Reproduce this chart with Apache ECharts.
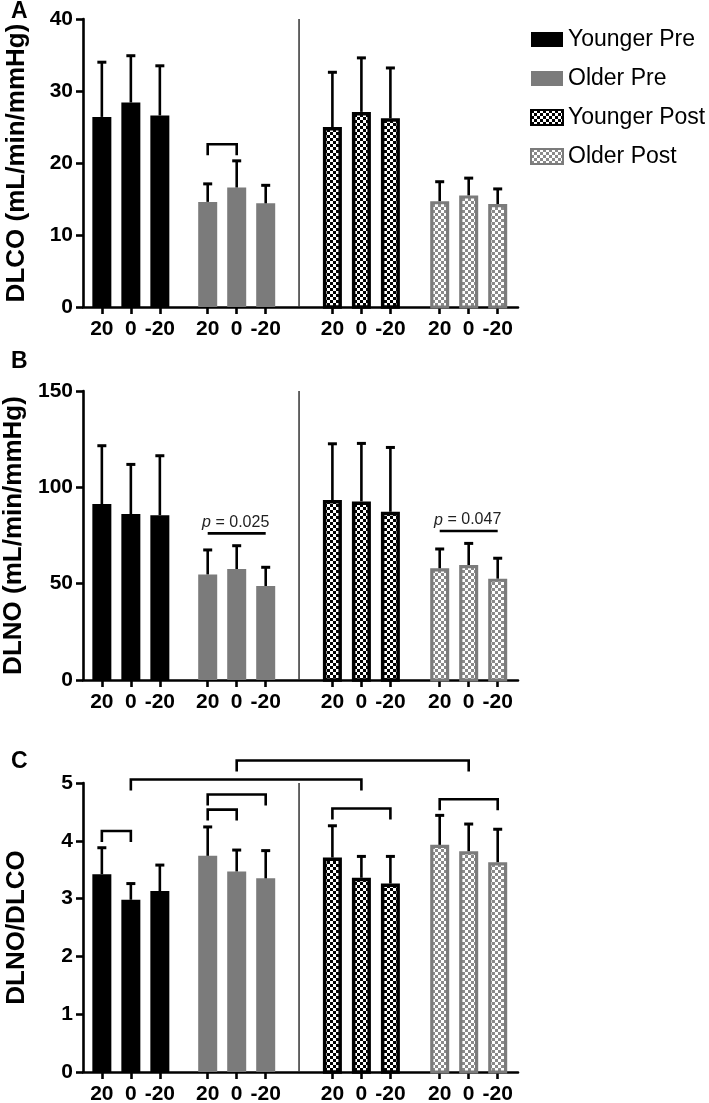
<!DOCTYPE html>
<html>
<head>
<meta charset="utf-8">
<script src="https://cdn.jsdelivr.net/npm/echarts@6/dist/echarts.min.js"></script>
<style>
html,body{margin:0;padding:0;background:#fff;}
#chart{width:709px;height:1103px;}
</style>
</head>
<body>
<div id="chart"></div>
<script>
// ---------------- DATA ----------------
const doseLabels = ['20', '0', '-20'];
const groupNames = ['Younger Pre', 'Older Pre', 'Younger Post', 'Older Post'];

// Panel A: DLCO (mean, SD) per group x dose
const dlcoMean = [[26.4, 28.4, 26.6], [14.6, 16.6, 14.4], [25.0, 27.1, 26.2], [14.7, 15.5, 14.3]];
const dlcoSD   = [[7.6, 6.5, 6.9],    [2.5, 3.7, 2.5],    [7.6, 7.5, 7.0],    [2.7, 2.4, 2.1]];
// Panel B: DLNO
const dlnoMean = [[91.3, 86.1, 85.5], [54.8, 57.6, 48.8], [93.4, 92.7, 87.3], [58.0, 59.7, 52.6]];
const dlnoSD   = [[30.3, 25.8, 30.9], [12.7, 12.1, 9.7],  [29.2, 30.1, 33.4], [10.0, 11.2, 10.6]];
// Panel C: DLNO/DLCO
const ratioMean = [[3.42, 2.98, 3.13], [3.74, 3.47, 3.35], [3.71, 3.36, 3.26], [3.93, 3.82, 3.63]];
const ratioSD   = [[0.46, 0.28, 0.45], [0.50, 0.37, 0.48], [0.55, 0.37, 0.47], [0.51, 0.47, 0.57]];

// y tick labels
const dlcoTicks = [0, 10, 20, 30, 40];
const dlnoTicks = [0, 50, 100, 150];
const ratioTicks = [0, 1, 2, 3, 4, 5];

// significance brackets: [fromBar, toBar, height]
const dlcoBrackets = [[3, 4, 22.6]];
const ratioBrackets = [[0, 1, 4.17], [3, 4, 4.54], [3, 5, 4.80], [1, 7, 5.06], [4, 10, 5.39], [6, 8, 4.56], [9, 11, 4.72]];
// p-value lines: [fromBar, toBar, height, p]
const dlnoPLines = [[3, 5, 76.1, '0.025'], [9, 11, 77.3, '0.047']];

// ---------------- LAYOUT ----------------
const groupStart = [0.65, 4.3, 8.6, 12.3];
const dividerX = 7.45;
const xMax = 15;
const barPos = [];
groupStart.forEach(s => { for (let i = 0; i < 3; i++) barPos.push(s + i); });

const FONT = '"Liberation Sans", Arial, Helvetica, sans-serif';
const GRAY = '#7b7b7b';

function checker(c1, c2, s) {
  const cv = document.createElement('canvas');
  cv.width = cv.height = 2 * s;
  const ctx = cv.getContext('2d');
  ctx.fillStyle = c2; ctx.fillRect(0, 0, 2 * s, 2 * s);
  ctx.fillStyle = c1; ctx.fillRect(0, 0, s, s); ctx.fillRect(s, s, s, s);
  return { image: cv, repeat: 'repeat' };
}
const patBlack = checker('#000', '#fff', 3);
const patGray = checker('#8a8a8a', '#fff', 3);

const groupStyles = [
  { fill: '#000', stroke: null, bw: 0 },
  { fill: GRAY, stroke: null, bw: 0 },
  { fill: patBlack, stroke: '#000', bw: 3.5 },
  { fill: patGray, stroke: GRAY, bw: 3.2 }
];

const BAR_W = 19;

function makeBarRender(g) {
  return function (params, api) {
    const x = api.value(0), m = api.value(1), sd = api.value(2);
    const p0 = api.coord([x, 0]);
    const p1 = api.coord([x, m]);
    const p2 = api.coord([x, m + sd]);
    const st = groupStyles[g];
    const bw = st.bw;
    const cx = p1[0];
    const rect = {
      type: 'rect',
      shape: { x: cx - BAR_W / 2 + bw / 2, y: p1[1] + bw / 2, width: BAR_W - bw, height: p0[1] - p1[1] - bw / 2 },
      style: bw ? { fill: st.fill, stroke: st.stroke, lineWidth: bw } : { fill: st.fill }
    };
    return {
      type: 'group',
      children: [
        rect,
        { type: 'line', shape: { x1: cx, y1: p1[1], x2: cx, y2: p2[1] }, style: { stroke: '#000', lineWidth: 2.6 } },
        { type: 'line', shape: { x1: cx - 4.5, y1: p2[1], x2: cx + 4.5, y2: p2[1] }, style: { stroke: '#000', lineWidth: 3 } }
      ]
    };
  };
}

function bracketRender(params, api) {
  const a = api.value(0), b = api.value(1), h = api.value(2);
  const pa = api.coord([barPos[a], h]);
  const pb = api.coord([barPos[b], h]);
  const leg = 11;
  return {
    type: 'polyline',
    shape: { points: [[pa[0], pa[1] + leg], [pa[0], pa[1]], [pb[0], pb[1]], [pb[0], pb[1] + leg]] },
    style: { stroke: '#000', lineWidth: 2.6, fill: null }
  };
}

function pLineRender(params, api) {
  const a = api.value(0), b = api.value(1), h = api.value(2);
  const txt = dlnoPLines[params.dataIndex][3];
  const pa = api.coord([barPos[a], h]);
  const pb = api.coord([barPos[b], h]);
  return {
    type: 'group',
    children: [
      { type: 'line', shape: { x1: pa[0], y1: pa[1], x2: pb[0], y2: pb[1] }, style: { stroke: '#000', lineWidth: 2.6 } },
      {
        type: 'text',
        style: {
          x: (pa[0] + pb[0]) / 2 - 1, y: pa[1] - 3,
          text: '{i|p} = ' + txt,
          rich: { i: { fontStyle: 'italic', fontSize: 16, fontFamily: FONT, fill: '#222' } },
          fontSize: 16, fontFamily: FONT, fill: '#222',
          align: 'center', verticalAlign: 'bottom'
        }
      }
    ]
  };
}

function dividerRender(params, api) {
  const top = api.value(1);
  const p0 = api.coord([api.value(0), 0]);
  const p1 = api.coord([api.value(0), top]);
  return { type: 'line', shape: { x1: p0[0], y1: p0[1], x2: p1[0], y2: p1[1] }, style: { stroke: '#333', lineWidth: 1.5 } };
}

const gridTops = [19, 391, 783];
const gridH = [288, 289, 289];
const panelTicks = [dlcoTicks, dlnoTicks, ratioTicks];
const panelNames = ['DLCO (mL/min/mmHg)', 'DLNO (mL/min/mmHg)', 'DLNO/DLCO'];
const panelMeans = [dlcoMean, dlnoMean, ratioMean];
const panelSDs = [dlcoSD, dlnoSD, ratioSD];

const grid = [], xAxis = [], yAxis = [], series = [];
for (let p = 0; p < 3; p++) {
  grid.push({ left: 83, width: 435, top: gridTops[p], height: gridH[p], containLabel: false, outerBoundsMode: 'none' });
  xAxis.push({
    type: 'value', gridIndex: p, min: 0, max: xMax,
    splitLine: { show: false },
    axisLine: { show: true, lineStyle: { color: '#000', width: 2.6 } },
    axisTick: { show: true, customValues: barPos, length: 7, lineStyle: { color: '#000', width: 2.6 } },
    axisLabel: {
      customValues: barPos, margin: 12, color: '#000', fontSize: 21, fontWeight: 'bold', fontFamily: FONT,
      formatter: v => { const i = barPos.findIndex(q => Math.abs(q - v) < 1e-6); return i >= 0 ? doseLabels[i % 3] : ''; }
    }
  });
  const t = panelTicks[p];
  yAxis.push({
    type: 'value', gridIndex: p, min: t[0], max: t[t.length - 1], interval: t[1] - t[0],
    splitLine: { show: false },
    axisLine: { show: true, lineStyle: { color: '#000', width: 2.6 } },
    axisTick: { show: true, length: 7, lineStyle: { color: '#000', width: 2.6 } },
    axisLabel: { margin: 10, color: '#000', fontSize: 21, fontWeight: 'bold', fontFamily: FONT },
    name: panelNames[p], nameLocation: 'middle', nameRotate: 90, nameGap: 53,
    nameTextStyle: { color: '#000', fontSize: 26, fontWeight: 'bold', fontFamily: FONT }
  });
  for (let g = 0; g < 4; g++) {
    const data = panelMeans[p][g].map((m, i) => [barPos[g * 3 + i], m, panelSDs[p][g][i]]);
    const st = groupStyles[g];
    series.push({
      type: 'custom', name: groupNames[g], xAxisIndex: p, yAxisIndex: p,
      renderItem: makeBarRender(g), data: data, encode: { x: 0, y: 1 }, clip: false,
      itemStyle: { color: st.fill, borderColor: st.stroke || st.fill, borderWidth: st.bw ? 2 : 0 }
    });
  }
  series.push({
    type: 'custom', xAxisIndex: p, yAxisIndex: p, renderItem: dividerRender,
    data: [[dividerX, t[t.length - 1]]], encode: { x: 0, y: 1 }, silent: true
  });
}
series.push({ type: 'custom', xAxisIndex: 0, yAxisIndex: 0, renderItem: bracketRender, data: dlcoBrackets, clip: false, silent: true, encode: { x: -1, y: 2 } });
series.push({ type: 'custom', xAxisIndex: 2, yAxisIndex: 2, renderItem: bracketRender, data: ratioBrackets, clip: false, silent: true, encode: { x: -1, y: 2 } });
series.push({ type: 'custom', xAxisIndex: 1, yAxisIndex: 1, renderItem: pLineRender, data: dlnoPLines.map(d => [d[0], d[1], d[2]]), clip: false, silent: true, encode: { x: -1, y: 2 } });

const option = {
  animation: false,
  backgroundColor: '#fff',
  textStyle: { fontFamily: FONT },
  title: [
    { text: 'A', left: 11, top: 0, padding: 0, textStyle: { fontSize: 23, fontWeight: 'bold', color: '#000', fontFamily: FONT } },
    { text: 'B', left: 11, top: 350, padding: 0, textStyle: { fontSize: 23, fontWeight: 'bold', color: '#000', fontFamily: FONT } },
    { text: 'C', left: 11, top: 750, padding: 0, textStyle: { fontSize: 23, fontWeight: 'bold', color: '#000', fontFamily: FONT } }
  ],
  legend: {
    orient: 'vertical', left: 530, top: 28, padding: 0,
    itemWidth: 32, itemHeight: 15, itemGap: 16, icon: 'rect', selectedMode: false,
    textStyle: { fontSize: 23, color: '#000', fontFamily: FONT },
    data: groupNames.map((n, g) => ({
      name: n,
      itemStyle: groupStyles[g].bw
        ? { color: groupStyles[g].fill, borderColor: groupStyles[g].stroke, borderWidth: 2 }
        : { color: groupStyles[g].fill, borderWidth: 0 }
    }))
  },
  grid, xAxis, yAxis, series
};

const chart = echarts.init(document.getElementById('chart'), null, { renderer: 'canvas' });
chart.setOption(option);
</script>
</body>
</html>
